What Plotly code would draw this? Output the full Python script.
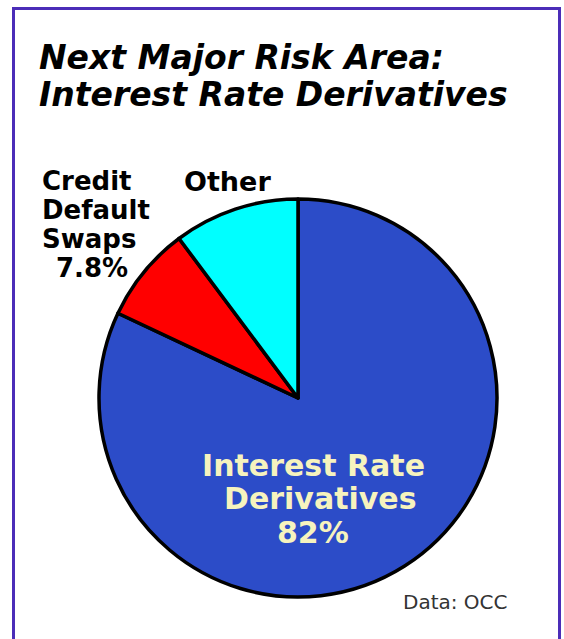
import plotly.graph_objects as go

categories = ["Interest Rate Derivatives", "Credit Default Swaps", "Other"]
shares = [82.0, 7.8, 10.2]
colors = ["#2C4CC8", "#FF0000", "#00FFFF"]

W, H = 564, 639
cx, cy, r = 298, 398, 199

fig = go.Figure(go.Pie(
    labels=categories, values=shares, sort=False, direction="clockwise", rotation=0,
    marker=dict(colors=colors, line=dict(color="black", width=3.5)),
    textinfo="none", hoverinfo="label+percent", showlegend=False,
    domain=dict(x=[(cx - r) / W, (cx + r) / W], y=[(H - cy - r) / H, (H - cy + r) / H]),
))

def ann(text, x, y, size, color="black", xanchor="left", bold=True, italic=False):
    fig.add_annotation(
        text=text, x=x / W, y=1 - y / H, xref="paper", yref="paper",
        xanchor=xanchor, yanchor="middle", showarrow=False, borderpad=0,
        font=dict(family="DejaVu Sans", size=size, color=color,
                  weight="bold" if bold else "normal",
                  style="italic" if italic else "normal"),
    )

title_lines = ["Next Major Risk Area:", "Interest Rate Derivatives"]
ann(title_lines[0], 38, 58, 33, italic=True)
ann(title_lines[1], 38, 94, 33, italic=True)

ann("Credit", 41, 181, 26)
ann("Default", 41, 210, 26)
ann("Swaps", 41, 239, 26)
ann("7.8%", 92, 268, 26, xanchor="center")
ann("Other", 228, 181, 27, xanchor="center")

ann("Interest Rate", 313, 465, 30, color="#F6F3BE", xanchor="center")
ann("Derivatives", 320, 498, 30, color="#F6F3BE", xanchor="center")
ann("82%", 313, 532, 30, color="#F6F3BE", xanchor="center")

ann("Data: OCC", 455, 602, 20, color="#333333", xanchor="center", bold=False)

fig.add_shape(type="rect", xref="paper", yref="paper",
              x0=13.5 / W, x1=559.5 / W, y0=-0.05, y1=1 - 8.5 / H,
              line=dict(color="#4B2DB8", width=3), fillcolor="rgba(0,0,0,0)")

fig.update_layout(width=W, height=H, margin=dict(l=0, r=0, t=0, b=0),
                  paper_bgcolor="white", plot_bgcolor="white")

fig.write_html("out.html")
